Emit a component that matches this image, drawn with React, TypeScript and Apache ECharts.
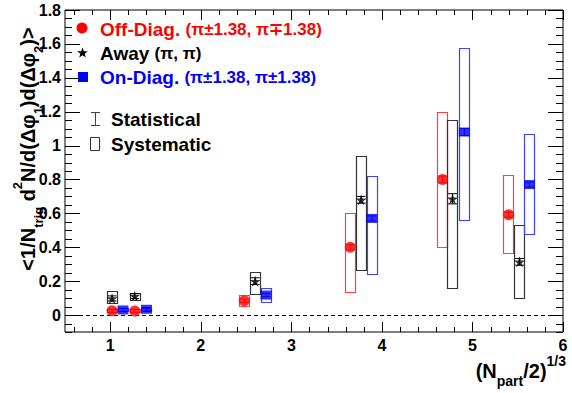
import React, { useEffect, useRef } from "react";
import * as echarts from "echarts";

// Off-diagonal (red circles)
const offX = [1.02, 1.27, 2.48, 3.65, 4.67, 5.4];
const offY = [0.025, 0.024, 0.084, 0.4, 0.8, 0.592];
const offStat = [0.01, 0.01, 0.01, 0.015, 0.02, 0.015];
const offSysLo = [0.015, 0.014, 0.055, 0.137, 0.398, 0.365];
const offSysHi = [0.035, 0.034, 0.12, 0.604, 1.196, 0.828];

// Away (black stars)
const awayX = [1.02, 1.27, 2.6, 3.77, 4.78, 5.52];
const awayY = [0.098, 0.112, 0.2, 0.68, 0.686, 0.314];
const awayStat = [0.015, 0.015, 0.02, 0.02, 0.03, 0.02];
const awaySysLo = [0.072, 0.088, 0.124, 0.265, 0.159, 0.106];
const awaySysHi = [0.141, 0.131, 0.255, 0.937, 1.153, 0.534];

// On-diagonal (blue squares)
const onX = [1.14, 1.4, 2.72, 3.89, 4.91, 5.63];
const onY = [0.03, 0.034, 0.118, 0.57, 1.08, 0.77];
const onStat = [0.01, 0.01, 0.01, 0.015, 0.02, 0.015];
const onSysLo = [0.02, 0.024, 0.075, 0.243, 0.563, 0.478];
const onSysHi = [0.04, 0.044, 0.157, 0.82, 1.576, 1.069];

// Axis ticks / labels
const xMajor = [1, 2, 3, 4, 5, 6];
const yMajor = [0, 0.2, 0.4, 0.6, 0.8, 1, 1.2, 1.4, 1.6, 1.8];
const xMinor: number[] = [];
for (let i = 3; i <= 30; i++) if (i % 5 !== 0) xMinor.push(Math.round(i * 0.2 * 1000) / 1000);
const yMinor: number[] = [];
for (let i = -2; i <= 36; i++) if (i % 4 !== 0) yMinor.push(Math.round(i * 0.05 * 1000) / 1000);

const X_MIN = 0.5, X_MAX = 6, Y_MIN = -0.1, Y_MAX = 1.8;
const BOX_W = 0.115;
const FONT = "'Liberation Sans', Arial, Helvetica, sans-serif";
const RED = "#ff0000", BLUE = "#0000ff", BLACK = "#000000";
const STAR = "path://M50,0 L61,35 L98,35 L68,57 L79,91 L50,70 L21,91 L32,57 L2,35 L39,35 Z";

function boxSeries(xs: number[], lo: number[], hi: number[], color: string) {
  return {
    type: "custom",
    z: 2,
    data: xs.map((x, i) => [x, lo[i], hi[i]]),
    encode: { x: 0, y: [1, 2] },
    renderItem: (_p: any, api: any) => {
      const x = api.value(0), l = api.value(1), h = api.value(2);
      const top = api.coord([x, h]);
      const bot = api.coord([x, l]);
      const w = api.size([BOX_W, 0])[0];
      return {
        type: "rect",
        shape: { x: Math.round(top[0] - w / 2) + 0.5, y: Math.round(top[1]) + 0.5, width: Math.round(w), height: Math.round(bot[1] - top[1]) },
        style: { fill: "none", stroke: color, lineWidth: 1.2 },
      };
    },
  };
}

function statSeries(xs: number[], ys: number[], st: number[], color: string) {
  return {
    type: "custom",
    z: 3,
    data: xs.map((x, i) => [x, ys[i] - st[i], ys[i] + st[i]]),
    encode: { x: 0, y: [1, 2] },
    renderItem: (_p: any, api: any) => {
      const x = api.value(0), l = api.value(1), h = api.value(2);
      const top = api.coord([x, h]);
      const bot = api.coord([x, l]);
      const cw = api.size([BOX_W * 0.85, 0])[0] / 2;
      return {
        type: "group",
        children: [
          { type: "line", shape: { x1: top[0], y1: top[1], x2: bot[0], y2: bot[1] }, style: { stroke: color, lineWidth: 1 } },
          { type: "line", shape: { x1: top[0] - cw, y1: top[1], x2: top[0] + cw, y2: top[1] }, style: { stroke: color, lineWidth: 1 } },
          { type: "line", shape: { x1: bot[0] - cw, y1: bot[1], x2: bot[0] + cw, y2: bot[1] }, style: { stroke: color, lineWidth: 1 } },
        ],
      };
    },
  };
}

// inside frame ticks, one line per value, placed through the axis scales
function xTicks(values: number[], edge: number, len: number) {
  return {
    type: "custom",
    z: 10,
    clip: false,
    data: values.map((v) => [v, 0.5]),
    encode: { x: 0, y: 1 },
    renderItem: (_p: any, api: any) => {
      const p = api.coord([api.value(0), edge]);
      const x = Math.round(p[0]) + 0.5;
      const dir = edge === Y_MIN ? -1 : 1;
      return { type: "line", shape: { x1: x, y1: p[1], x2: x, y2: p[1] + dir * len }, style: { stroke: "#000", lineWidth: 1 } };
    },
  };
}

function yTicks(values: number[], edge: number, len: number) {
  return {
    type: "custom",
    z: 10,
    clip: false,
    data: values.map((v) => [3, v]),
    encode: { x: 0, y: 1 },
    renderItem: (_p: any, api: any) => {
      const p = api.coord([edge, api.value(1)]);
      const y = Math.round(p[1]) + 0.5;
      const dir = edge === X_MIN ? 1 : -1;
      return { type: "line", shape: { x1: p[0], y1: y, x2: p[0] + dir * len, y2: y }, style: { stroke: "#000", lineWidth: 1 } };
    },
  };
}

function starPoints(cx: number, cy: number, r: number) {
  const pts: number[][] = [];
  for (let i = 0; i < 10; i++) {
    const rr = i % 2 === 0 ? r : r * 0.42;
    const a = -Math.PI / 2 + (i * Math.PI) / 5;
    pts.push([cx + rr * Math.cos(a), cy + rr * Math.sin(a)]);
  }
  return pts;
}

export default function App() {
  const ref = useRef<HTMLDivElement>(null);
  useEffect(() => {
    if (!ref.current) return;
    const chart = echarts.init(ref.current, null, { renderer: "svg" });
    const legendFont = { fontSize: 19, fontWeight: "bold", fontFamily: FONT };
    const legendRich = (color: string) => ({
      a: { fontSize: 19, fontWeight: "bold", fontFamily: FONT, fill: color, color },
      b: { fontSize: 17, fontWeight: "bold", fontFamily: FONT, fill: color, color },
    });
    const XL = 10, XS = 5, YL = 15, YS = 7;
    const staticGraphics: any[] = [
      // legend
      { type: "circle", shape: { cx: 82, cy: 28, r: 5.5 }, style: { fill: RED } },
      {
        type: "text", x: 100, y: 29,
        style: { text: "{a|Off-Diag. }{b|(π±1.38, π∓1.38)}", fill: RED, verticalAlign: "middle", ...legendFont, rich: legendRich(RED) },
      },
      { type: "polygon", shape: { points: starPoints(82.5, 53, 5.5) }, style: { fill: BLACK } },
      {
        type: "text", x: 100, y: 53,
        style: { text: "{a|Away }{b|(π, π)}", fill: BLACK, verticalAlign: "middle", ...legendFont, rich: legendRich(BLACK) },
      },
      { type: "rect", shape: { x: 78, y: 72, width: 10, height: 10 }, style: { fill: BLUE } },
      {
        type: "text", x: 100, y: 77,
        style: { text: "{a|On-Diag. }{b|(π±1.38, π±1.38)}", fill: BLUE, verticalAlign: "middle", ...legendFont, rich: legendRich(BLUE) },
      },
      { type: "line", shape: { x1: 95.5, y1: 112, x2: 95.5, y2: 126 }, style: { stroke: "#444", lineWidth: 1 } },
      { type: "line", shape: { x1: 91, y1: 112.5, x2: 100, y2: 112.5 }, style: { stroke: "#444", lineWidth: 1 } },
      { type: "line", shape: { x1: 91, y1: 125.5, x2: 100, y2: 125.5 }, style: { stroke: "#444", lineWidth: 1 } },
      {
        type: "text", x: 111, y: 119,
        style: { text: "Statistical", fill: BLACK, verticalAlign: "middle", ...legendFont },
      },
      { type: "rect", shape: { x: 90.5, y: 137.5, width: 9, height: 13 }, style: { fill: "none", stroke: "#333", lineWidth: 1 } },
      {
        type: "text", x: 111, y: 144,
        style: { text: "Systematic", fill: BLACK, verticalAlign: "middle", ...legendFont },
      },
      // y title
      {
        type: "text", x: 28, y: 149, rotation: Math.PI / 2,
        style: {
          text: "{m|<1/N}{sub|trig}{m| d}{sup|2}{m|N/d(Δφ}{sub|1}{m|)d(Δφ}{sub|2}{m|)>}",
          align: "center", verticalAlign: "middle",
          fontFamily: FONT, fontWeight: "bold", fontSize: 20, fill: BLACK,
          rich: {
            m: { fontSize: 20, fontWeight: "bold", fontFamily: FONT, lineHeight: 34, verticalAlign: "middle" },
            sub: { fontSize: 13, fontWeight: "bold", fontFamily: FONT, lineHeight: 14, verticalAlign: "bottom" },
            sup: { fontSize: 13, fontWeight: "bold", fontFamily: FONT, lineHeight: 14, verticalAlign: "top" },
          },
        },
      },
      // x title
      {
        type: "text", x: 566, y: 371,
        style: {
          text: "{m|(N}{sub|part}{m|/2)}{sup|1/3}",
          align: "right", verticalAlign: "middle",
          fontFamily: FONT, fontWeight: "bold", fontSize: 20, fill: BLACK,
          rich: {
            m: { fontSize: 20, fontWeight: "bold", fontFamily: FONT, lineHeight: 34, verticalAlign: "middle" },
            sub: { fontSize: 14, fontWeight: "bold", fontFamily: FONT, lineHeight: 14, verticalAlign: "bottom" },
            sup: { fontSize: 14, fontWeight: "bold", fontFamily: FONT, lineHeight: 14, verticalAlign: "top" },
          },
        },
      },
    ];
    const option: any = {
      animation: false,
      backgroundColor: "#fff",
      grid: { left: 65, right: 9, top: 10, bottom: 61, show: true, borderColor: "#000", borderWidth: 1, backgroundColor: "transparent" },
      xAxis: {
        type: "value", min: X_MIN, max: X_MAX,
        splitLine: { show: false },
        axisLine: { show: false },
        axisTick: { show: false },
        axisLabel: { show: true, customValues: xMajor, margin: 5, fontSize: 16, fontWeight: "bold", fontFamily: FONT, color: "#000" },
      },
      yAxis: {
        type: "value", min: Y_MIN, max: Y_MAX,
        splitLine: { show: false },
        axisLine: { show: false },
        axisTick: { show: false },
        axisLabel: { show: true, customValues: yMajor, margin: 4, fontSize: 16, fontWeight: "bold", fontFamily: FONT, color: "#000" },
      },
      series: [
        {
          type: "custom",
          z: 1,
          data: [[X_MIN, 0]],
          encode: { x: 0, y: 1 },
          renderItem: (_p: any, api: any) => {
            const a = api.coord([X_MIN, 0]);
            const b = api.coord([X_MAX, 0]);
            const y = Math.round(a[1]) + 0.5;
            return { type: "line", shape: { x1: a[0], y1: y, x2: b[0], y2: y }, style: { stroke: "#000", lineWidth: 1, lineDash: [4, 3] } };
          },
        },
        xTicks(xMajor, Y_MIN, XL),
        xTicks(xMajor, Y_MAX, XL),
        xTicks(xMinor, Y_MIN, XS),
        xTicks(xMinor, Y_MAX, XS),
        yTicks(yMajor, X_MIN, YL),
        yTicks(yMajor, X_MAX, YL),
        yTicks(yMinor, X_MIN, YS),
        yTicks(yMinor, X_MAX, YS),
        boxSeries(offX, offSysLo, offSysHi, "#ff4040"),
        boxSeries(awayX, awaySysLo, awaySysHi, "#333333"),
        boxSeries(onX, onSysLo, onSysHi, "#4040ff"),
        statSeries(offX, offY, offStat, RED),
        statSeries(awayX, awayY, awayStat, BLACK),
        statSeries(onX, onY, onStat, BLUE),
        {
          type: "scatter",
          z: 5,
          symbol: "circle",
          symbolSize: 11,
          itemStyle: { color: RED },
          data: offX.map((x, i) => [x, offY[i]]),
        },
        {
          type: "scatter",
          z: 5,
          symbol: STAR,
          symbolSize: 11,
          itemStyle: { color: BLACK },
          data: awayX.map((x, i) => [x, awayY[i]]),
        },
        {
          type: "scatter",
          z: 5,
          symbol: "rect",
          symbolSize: [11, 9],
          itemStyle: { color: BLUE },
          data: onX.map((x, i) => [x, onY[i]]),
        },
      ],
      graphic: staticGraphics,
    };
    chart.setOption(option);

    // same frame ticks also as graphic lines, positioned with the grid's scales
    try {
      const ticks: any[] = [];
      const addX = (vals: number[], len: number) => {
        vals.forEach((v) => {
          const b = chart.convertToPixel({ gridIndex: 0 }, [v, Y_MIN]) as number[];
          const t = chart.convertToPixel({ gridIndex: 0 }, [v, Y_MAX]) as number[];
          const x = Math.round(b[0]) + 0.5;
          ticks.push({ type: "line", z: 20, shape: { x1: x, y1: b[1], x2: x, y2: b[1] - len }, style: { stroke: "#000", lineWidth: 1 } });
          ticks.push({ type: "line", z: 20, shape: { x1: x, y1: t[1], x2: x, y2: t[1] + len }, style: { stroke: "#000", lineWidth: 1 } });
        });
      };
      const addY = (vals: number[], len: number) => {
        vals.forEach((v) => {
          const l = chart.convertToPixel({ gridIndex: 0 }, [X_MIN, v]) as number[];
          const r = chart.convertToPixel({ gridIndex: 0 }, [X_MAX, v]) as number[];
          const y = Math.round(l[1]) + 0.5;
          ticks.push({ type: "line", z: 20, shape: { x1: l[0], y1: y, x2: l[0] + len, y2: y }, style: { stroke: "#000", lineWidth: 1 } });
          ticks.push({ type: "line", z: 20, shape: { x1: r[0], y1: y, x2: r[0] - len, y2: y }, style: { stroke: "#000", lineWidth: 1 } });
        });
      };
      addX(xMajor, XL);
      addX(xMinor, XS);
      addY(yMajor, YL);
      addY(yMinor, YS);
      chart.setOption({ graphic: [...staticGraphics, ...ticks] });
    } catch (e) {
      // keep chart as is
    }

    return () => chart.dispose();
  }, []);
  return <div ref={ref} style={{ position: "fixed", left: 0, top: 0, width: 572, height: 393 }} />;
}
